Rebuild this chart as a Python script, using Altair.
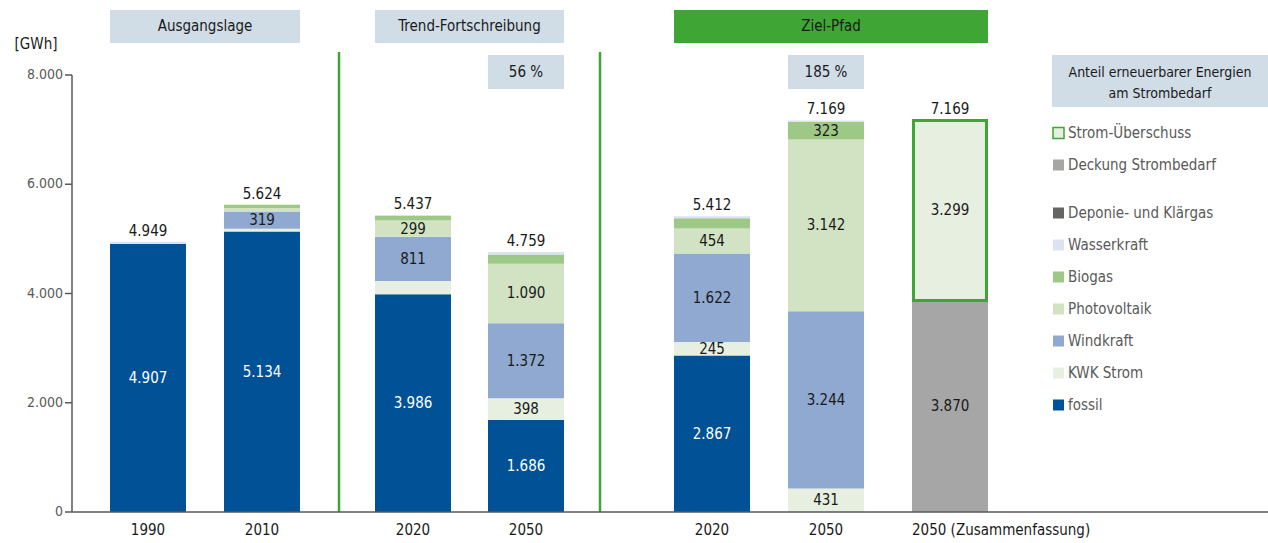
import altair as alt
import pandas as pd

# ---------------- data ----------------
BAR_IDS = ["a1990", "a2010", "t2020", "t2050", "z2020", "z2050", "s2050"]
X_LABELS = ["1990", "2010", "2020", "2050", "2020", "2050", "2050 (Zusammenfassung)"]
X_POS = [76, 190, 341, 454, 640, 754, 878]          # category slot positions on the x scale
Y_TICKS = [0, 2000, 4000, 6000, 8000]

SERIES = ["fossil", "KWK Strom", "Windkraft", "Photovoltaik", "Biogas",
          "Wasserkraft", "Deponie- und Klärgas", "Deckung Strombedarf", "Strom-Überschuss"]
fossil      = [4907, 5134, 3986, 1686, 2867, 0, 0]
kwk         = [0, 50, 241, 398, 245, 431, 0]
wind        = [0, 319, 811, 1372, 1622, 3244, 0]
pv          = [0, 60, 299, 1090, 454, 3142, 0]
biogas      = [0, 61, 80, 170, 190, 323, 0]
wasser      = [42, 0, 20, 43, 34, 29, 0]
deponie     = [0, 0, 0, 0, 0, 0, 0]
deckung     = [0, 0, 0, 0, 0, 0, 3870]
ueberschuss = [0, 0, 0, 0, 0, 0, 3299]
TOTALS = [4949, 5624, 5437, 4759, 5412, 7169, 7169]

GROUPS = ["Ausgangslage", "Trend-Fortschreibung", "Ziel-Pfad"]
GROUP_BARS = [(0, 1), (2, 3), (4, 6)]
PERCENT_TEXT = ["56 %", "185 %"]
PERCENT_BAR = [3, 5]
DIVIDERS = [267, 528]
SHARE_LINES = ["Anteil erneuerbarer Energien", "am Strombedarf"]

LEGEND_ORDER = ["Strom-Überschuss", "Deckung Strombedarf", "Deponie- und Klärgas", "Wasserkraft",
                "Biogas", "Photovoltaik", "Windkraft", "KWK Strom", "fossil"]

COLORS = {
    "fossil": "#005196",
    "KWK Strom": "#e7efe0",
    "Windkraft": "#8fa9d1",
    "Photovoltaik": "#d2e3c4",
    "Biogas": "#9ec886",
    "Wasserkraft": "#dbe2f1",
    "Deponie- und Klärgas": "#656565",
    "Deckung Strombedarf": "#a6a6a6",
    "Strom-Überschuss": "#e7efe0",
}
GREEN = "#3fa535"
BOXBLUE = "#d0dce6"
AXIS_GRAY = "#595959"
FONT = "DejaVu Sans Condensed, Liberation Sans Narrow, Roboto, sans-serif"
W, H = 1196, 437
YMAX = 8000
BAR_W = 76


def de(v):
    return f"{v:,}".replace(",", ".")


def px2v(px):
    """pixel offset from the top of the plot -> value on the y scale (layout helper)"""
    return (H - px) * YMAX / H


# ---------------- tables ----------------
series_values = [fossil, kwk, wind, pv, biogas, wasser, deponie, deckung, ueberschuss]
rows = []
for i, bid in enumerate(BAR_IDS):
    base = 0
    for s, vals in zip(SERIES, series_values):
        v = vals[i]
        if v <= 0:
            continue
        rows.append({"bar": bid, "pos": X_POS[i], "series": s, "value": v,
                     "y0": base, "y1": base + v, "mid": base + v / 2,
                     "label": de(v) if v >= 245 else "",
                     "light": bool(s == "fossil")})
        base += v
seg = pd.DataFrame(rows)

tot = pd.DataFrame({"pos": X_POS, "total": TOTALS, "label": [de(t) for t in TOTALS],
                    "xlab": X_LABELS, "zero": [0] * len(X_POS),
                    "xleft": [p - BAR_W / 2 for p in X_POS]})

hdr = pd.DataFrame({
    "name": GROUPS,
    "x0": [X_POS[a] - BAR_W / 2 for a, b in GROUP_BARS],
    "x1": [X_POS[b] + BAR_W / 2 for a, b in GROUP_BARS],
})
hdr["xc"] = (hdr["x0"] + hdr["x1"]) / 2
hdr["y0"] = px2v(-65)
hdr["y1"] = px2v(-32)
hdr["yc"] = px2v(-49)

pct = pd.DataFrame({"text": PERCENT_TEXT,
                    "x0": [X_POS[b] - BAR_W / 2 for b in PERCENT_BAR],
                    "x1": [X_POS[b] + BAR_W / 2 for b in PERCENT_BAR],
                    "xc": [X_POS[b] for b in PERCENT_BAR]})
pct["y0"] = px2v(-20)
pct["y1"] = px2v(14)
pct["yc"] = px2v(-3)

share = pd.DataFrame({"t": SHARE_LINES, "x0": [980, 980], "x1": [W, W], "xc": [1088, 1088],
                      "y0": [px2v(-20)] * 2, "y1": [px2v(32)] * 2,
                      "yc": [px2v(-2), px2v(19)]})

divs_df = pd.DataFrame({"x": DIVIDERS, "y0": [0, 0], "y1": [px2v(-23)] * 2})
base_df = pd.DataFrame({"x0": [0], "x1": [W], "y": [0]})
unit_df = pd.DataFrame({"t": ["[GWh]"], "x": [-36], "y": [px2v(-31)]})

ticks_df = pd.DataFrame({"v": Y_TICKS, "lab": [de(v) for v in Y_TICKS]})
ticks_df["x0"] = -7
ticks_df["x1"] = 0
ticks_df["xt"] = -9
yaxis_df = pd.DataFrame({"x": [0], "y0": [0], "y1": [YMAX]})

leg = pd.DataFrame({"name": LEGEND_ORDER, "idx": list(range(len(LEGEND_ORDER)))})
leg["yv"] = [px2v(58 + i * 32 + (16 if i >= 2 else 0)) for i in leg["idx"]]
leg["xs"] = 986.5
leg["xt"] = 996

xs = alt.Scale(domain=[0, W], nice=False, zero=False, padding=0)
ys = alt.Scale(domain=[0, YMAX], nice=False, padding=0)
color_scale = alt.Scale(domain=SERIES, range=[COLORS[s] for s in SERIES])


def X(f):
    return alt.X(f, scale=xs, axis=None)


def Y(f):
    return alt.Y(f, scale=ys, axis=None)


base_seg = alt.Chart(seg)

bars = base_seg.transform_filter("datum.series != 'Strom-Überschuss'").mark_bar(size=BAR_W).encode(
    x=X("pos:Q"), y=Y("y0:Q"), y2="y1:Q",
    color=alt.Color("series:N", scale=color_scale, legend=None),
)

surplus = base_seg.transform_filter("datum.series == 'Strom-Überschuss'").mark_bar(
    size=BAR_W - 3, stroke=GREEN, strokeWidth=3, color=COLORS["Strom-Überschuss"]
).encode(x=X("pos:Q"), y=Y("y0:Q"), y2="y1:Q")

seg_text = base_seg.transform_filter("datum.label != ''").mark_text(
    font=FONT, fontSize=15, baseline="middle").encode(
    x=X("pos:Q"), y=Y("mid:Q"), text="label:N",
    color=alt.condition("datum.light", alt.value("white"), alt.value("#1a1a1a")),
)

tot_text = alt.Chart(tot).mark_text(font=FONT, fontSize=15, baseline="middle", dy=-11,
                                    color="#1a1a1a").encode(
    x=X("pos:Q"), y=Y("total:Q"), text="label:N")

x_text = alt.Chart(tot).transform_filter("indexof(datum.xlab, '(') < 0").mark_text(
    font=FONT, fontSize=15, baseline="middle", dy=18, color="#1a1a1a").encode(
    x=X("pos:Q"), y=Y("zero:Q"), text="xlab:N")
x_text_long = alt.Chart(tot).transform_filter("indexof(datum.xlab, '(') >= 0").mark_text(
    font=FONT, fontSize=15, baseline="middle", dy=18, align="left", color="#1a1a1a").encode(
    x=X("xleft:Q"), y=Y("zero:Q"), text="xlab:N")

baseline = alt.Chart(base_df).mark_rule(color=AXIS_GRAY, strokeWidth=1.5).encode(
    x=X("x0:Q"), x2="x1:Q", y=Y("y:Q"))

yaxis_line = alt.Chart(yaxis_df).mark_rule(color=AXIS_GRAY, strokeWidth=1.5).encode(
    x=X("x:Q"), y=Y("y0:Q"), y2="y1:Q")
yaxis_ticks = alt.Chart(ticks_df).mark_rule(color=AXIS_GRAY, strokeWidth=1.5).encode(
    x=X("x0:Q"), x2="x1:Q", y=Y("v:Q"))
yaxis_labels = alt.Chart(ticks_df).mark_text(font=FONT, fontSize=14, color=AXIS_GRAY, align="right",
                                             baseline="middle").encode(
    x=X("xt:Q"), y=Y("v:Q"), text="lab:N")

divs = alt.Chart(divs_df).mark_rule(color=GREEN, strokeWidth=2.5).encode(
    x=X("x:Q"), y=Y("y0:Q"), y2="y1:Q")

hdr_box = alt.Chart(hdr).mark_rect().encode(
    x=X("x0:Q"), x2="x1:Q", y=Y("y0:Q"), y2="y1:Q",
    color=alt.condition("datum.name == 'Ziel-Pfad'", alt.value(GREEN), alt.value(BOXBLUE)))
hdr_text = alt.Chart(hdr).mark_text(font=FONT, fontSize=15, color="#1a1a1a", baseline="middle").encode(
    x=X("xc:Q"), y=Y("yc:Q"), text="name:N")

pct_box = alt.Chart(pct).mark_rect(color=BOXBLUE).encode(
    x=X("x0:Q"), x2="x1:Q", y=Y("y0:Q"), y2="y1:Q")
pct_text = alt.Chart(pct).mark_text(font=FONT, fontSize=15, color="#1a1a1a", baseline="middle").encode(
    x=X("xc:Q"), y=Y("yc:Q"), text="text:N")

share_box = alt.Chart(share.head(1)).mark_rect(color=BOXBLUE).encode(
    x=X("x0:Q"), x2="x1:Q", y=Y("y0:Q"), y2="y1:Q")
share_text = alt.Chart(share).mark_text(font=FONT, fontSize=14, color="#1a1a1a", baseline="middle").encode(
    x=X("xc:Q"), y=Y("yc:Q"), text="t:N")

unit = alt.Chart(unit_df).mark_text(font=FONT, fontSize=15, color="#1a1a1a", baseline="middle").encode(
    x=X("x:Q"), y=Y("y:Q"), text="t:N")

leg_sq = alt.Chart(leg).mark_square(size=121, opacity=1).encode(
    x=X("xs:Q"), y=Y("yv:Q"),
    color=alt.Color("name:N", scale=color_scale, legend=None),
    stroke=alt.condition("datum.name == 'Strom-Überschuss'", alt.value(GREEN), alt.value("transparent")),
    strokeWidth=alt.value(1.5),
)
leg_txt = alt.Chart(leg).mark_text(font=FONT, fontSize=15, color=AXIS_GRAY, align="left",
                                   baseline="middle").encode(
    x=X("xt:Q"), y=Y("yv:Q"), text="name:N")

chart = alt.layer(
    divs, bars, surplus, seg_text, tot_text, baseline, yaxis_line, yaxis_ticks, yaxis_labels,
    x_text, x_text_long, hdr_box, hdr_text, pct_box, pct_text, share_box, share_text, unit,
    leg_sq, leg_txt,
).properties(
    width=W, height=H, autosize=alt.AutoSizeParams(type="none"),
    padding={"left": 72, "top": 75, "right": 0, "bottom": 31},
).configure_view(stroke=None)

chart.save("out.html", embed_options={"renderer": "svg", "actions": False})
